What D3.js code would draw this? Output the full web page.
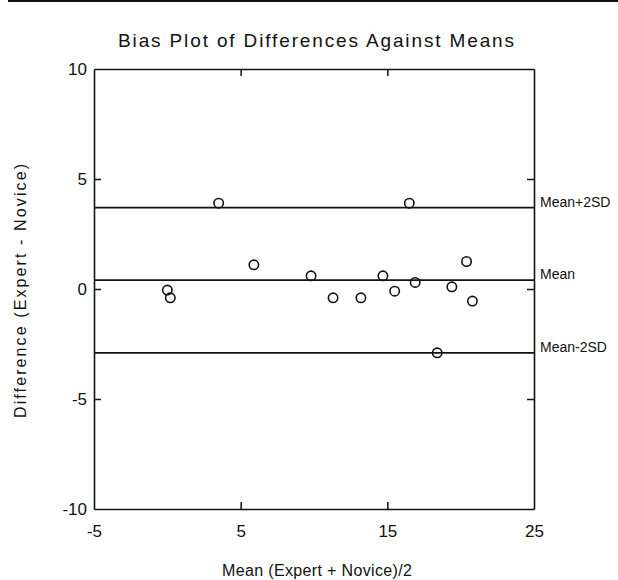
<!DOCTYPE html>
<html>
<head>
<meta charset="utf-8">
<script src="https://cdn.jsdelivr.net/npm/d3@7"></script>
<style>
  html, body { margin: 0; padding: 0; background: #fff; }
  svg { display: block; }
  text { font-family: "Liberation Sans", Arial, Helvetica, sans-serif; fill: #111; }
</style>
</head>
<body>
<div id="chart"></div>
<script>
// ---- data ----
const meanValues = [3.5, 5.9, 0.0, 0.2, 16.5, 9.8, 11.3, 13.2, 14.7, 15.5, 16.9, 19.4, 20.4, 20.8, 18.4];
const diffValues = [3.9, 1.1, -0.05, -0.4, 3.9, 0.6, -0.4, -0.4, 0.6, -0.1, 0.3, 0.1, 1.25, -0.55, -2.9];
const refLabels = ["Mean+2SD", "Mean", "Mean-2SD"];
const refValues = [3.7, 0.4, -2.9];
const xTicks = [-5, 5, 15, 25];
const yTicks = [10, 5, 0, -5, -10];
const title = "Bias Plot of Differences Against Means";
const xTitle = "Mean (Expert + Novice)/2";
const yTitle = "Difference (Expert - Novice)";

// ---- layout ----
const W = 618, H = 580;
const mLeft = 94, mRight = 534, mTop = 69, mBottom = 509;

const svg = d3.select("#chart").append("svg").attr("width", W).attr("height", H);

// scan border line at the top
svg.append("rect").attr("x", 8).attr("y", 0).attr("width", W - 8).attr("height", 2).attr("fill", "#111");

const x = d3.scaleLinear().domain([-5, 25]).range([mLeft, mRight]);
const y = d3.scaleLinear().domain([-10, 10]).range([mBottom, mTop]);

const fmt = d => (d < 0 ? "-" + Math.abs(d) : String(d));
const tickLen = 7;
function styleAxis(g) {
  g.selectAll("path.domain").attr("stroke", "#111").attr("stroke-width", 1.6);
  g.selectAll(".tick line").attr("stroke", "#111").attr("stroke-width", 1.5);
  g.selectAll("text").style("font-family", '"Liberation Sans", Arial, sans-serif')
    .style("font-size", "17px").attr("fill", "#111");
}

// bottom axis
svg.append("g").attr("transform", `translate(0,${mBottom})`)
  .call(d3.axisBottom(x).tickValues(xTicks).tickSizeInner(-tickLen).tickSizeOuter(0).tickPadding(16).tickFormat(fmt))
  .call(styleAxis)
  .call(g => g.selectAll(".tick").filter(d => d === -5 || d === 25).select("line").remove());
// top axis
svg.append("g").attr("transform", `translate(0,${mTop})`)
  .call(d3.axisTop(x).tickValues(xTicks.slice(1, -1)).tickSizeInner(-tickLen).tickSizeOuter(0).tickFormat(""))
  .call(styleAxis);
// left axis
svg.append("g").attr("transform", `translate(${mLeft},0)`)
  .call(d3.axisLeft(y).tickValues(yTicks).tickSizeInner(-tickLen).tickSizeOuter(0).tickPadding(7).tickFormat(fmt))
  .call(styleAxis)
  .call(g => g.selectAll(".tick").filter(d => d === 10 || d === -10).select("line").remove());
// right axis
svg.append("g").attr("transform", `translate(${mRight},0)`)
  .call(d3.axisRight(y).tickValues(yTicks.slice(1, -1)).tickSizeInner(-tickLen).tickSizeOuter(0).tickFormat(""))
  .call(styleAxis);

// reference lines
svg.append("g").selectAll("line").data(refValues).join("line")
  .attr("x1", mLeft).attr("x2", mRight)
  .attr("y1", d => y(d)).attr("y2", d => y(d))
  .attr("stroke", "#111").attr("stroke-width", 1.8);

svg.append("g").selectAll("text").data(refValues).join("text")
  .attr("x", mRight + 6).attr("y", d => y(d) - 1)
  .style("font-size", "14px")
  .text((d, i) => refLabels[i]);

// points
svg.append("g").selectAll("circle").data(meanValues).join("circle")
  .attr("cx", d => x(d)).attr("cy", (d, i) => y(diffValues[i]))
  .attr("r", 4.7).attr("fill", "none").attr("stroke", "#111").attr("stroke-width", 1.6);

// titles
svg.append("text").attr("x", (mLeft + mRight) / 2 + 2).attr("y", 47)
  .attr("text-anchor", "middle").style("font-size", "19px")
  .attr("textLength", 396).attr("lengthAdjust", "spacing")
  .text(title);

svg.append("text").attr("x", (mLeft + mRight) / 2 + 3).attr("y", 576)
  .attr("text-anchor", "middle").style("font-size", "16px")
  .attr("textLength", 190).attr("lengthAdjust", "spacing")
  .text(xTitle);

svg.append("text").attr("transform", `translate(26,${(mTop + mBottom) / 2 + 2}) rotate(-90)`)
  .attr("text-anchor", "middle").style("font-size", "16px")
  .attr("textLength", 254).attr("lengthAdjust", "spacing")
  .text(yTitle);
</script>
</body>
</html>
